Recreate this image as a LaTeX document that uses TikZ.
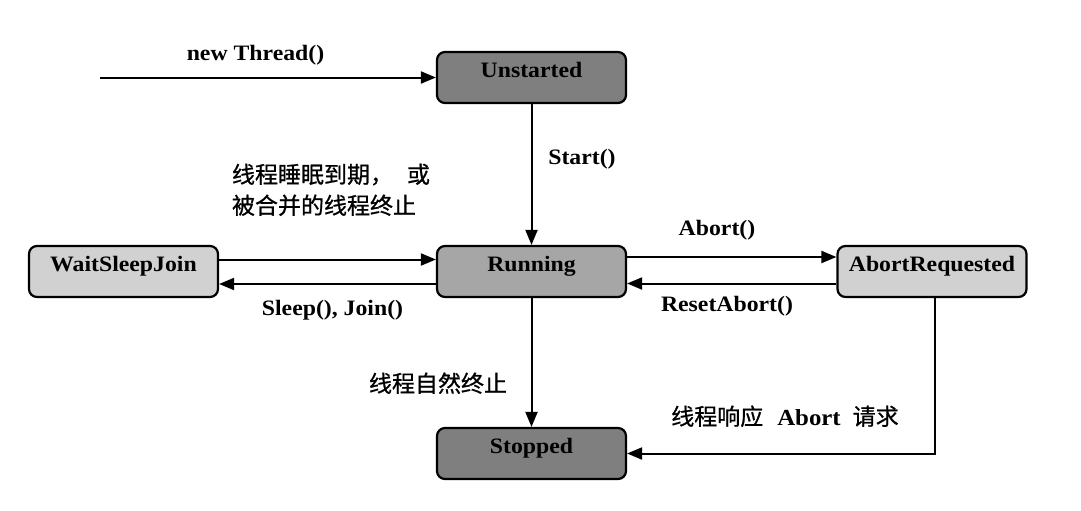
\documentclass[tikz,border=0pt]{standalone}
\usepackage{fontspec}
\setmainfont{Liberation Serif}[FakeStretch=1.08]
\newfontfamily\cjk{Noto Sans CJK SC}[FakeBold=0.8]
\usetikzlibrary{arrows.meta}
\definecolor{darkfill}{HTML}{7F7F7F}
\definecolor{midfill}{HTML}{A6A6A6}
\definecolor{lightfill}{HTML}{D0D1D0}

\begin{document}
\begin{tikzpicture}[x=1pt,y=-1pt,->,>={Triangle[length=15pt,width=12pt]},line width=2pt,
	state/.style = {draw,rounded corners=8pt,line width=2.2pt,minimum width=189pt,minimum height=51pt,inner sep=0pt,text height=15pt,text depth=15pt,font=\bfseries\fontsize{22}{26}\selectfont},
	lab/.style = {inner sep=0pt,anchor=base,font=\bfseries\fontsize{22}{26}\selectfont},
	cn/.style = {inner sep=0pt,anchor=base,font=\cjk\fontsize{23}{31}\selectfont}]
\useasboundingbox (0,0) rectangle (1081,511);
\node [state,fill=darkfill] (un) at (531.5,77.5) {Unstarted};
\node [state,fill=midfill] (run) at (531.5,271.5) {Running};
\node [state,fill=lightfill] (wait) at (123.5,271.5) {WaitSleepJoin};
\node [state,fill=lightfill] (abort) at (932,271.5) {AbortRequested};
\node [state,fill=darkfill] (stop) at (531.5,453.5) {Stopped};
\coordinate (nt) at (100,77.5);
	\draw (nt) to (un);
	\draw (un) to (run);
	\draw ([yshift=12pt]wait.east) to ([yshift=12pt]run.west);
	\draw ([yshift=-12.5pt]run.west) to ([yshift=-12.5pt]wait.east);
	\draw ([yshift=14.5pt]run.east) to ([yshift=14.5pt]abort.west);
	\draw ([yshift=-12pt]abort.west) to ([yshift=-12pt]run.east);
	\draw (run) to (stop);
	\draw ([xshift=3pt]abort.south) |- (stop);
\node [lab] (lnt) at (255.5,61) {new Thread()};
\node [lab] (lst) at (582,164) {Start()};
\node [lab] (lab) at (717,235) {Abort()};
\node [lab] (lra) at (727,311) {ResetAbort()};
\node [lab] (lsj) at (332.5,315) {Sleep(), Join()};
\node [cn,anchor=base west] (lw1) at (231,183) {线程睡眠到期，\hspace{14pt}或};
\node [cn,anchor=base west] (lw2) at (231,214) {被合并的线程终止};
\node [cn] (lend) at (438,392) {线程自然终止};
\node [cn] (lresp) at (785,425) {线程响应\hspace{14pt}{\rmfamily\bfseries Abort}\hspace{12pt}请求};
\end{tikzpicture}
\end{document}
